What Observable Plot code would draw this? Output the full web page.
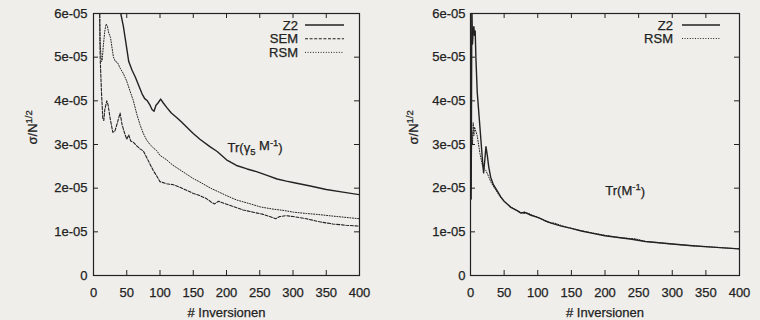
<!DOCTYPE html>
<html><head><meta charset="utf-8">
<script src="https://cdn.jsdelivr.net/npm/d3@7"></script>
<script src="https://cdn.jsdelivr.net/npm/@observablehq/plot@0.6"></script>
<style>
html,body{margin:0;padding:0;background:#efeeea;}
#wrap{position:relative;width:760px;height:320px;display:flex;}
#wrap svg{font-family:"Liberation Sans",Arial,sans-serif;}
#wrap svg text{stroke:#222;stroke-width:0.25px;}
</style></head><body><div id="wrap"></div>
<script>
// ---- data (y values in units of 1e-05) ----
const xTicks = [0, 50, 100, 150, 200, 250, 300, 350, 400];
const yTicks = [0, 1, 2, 3, 4, 5, 6];
const yTickLabels = ["0", "1e-05", "2e-05", "3e-05", "4e-05", "5e-05", "6e-05"];
const xLabel = "# Inversionen";
const yLabel = "σ/N1/2";

// Left panel: Tr(gamma5 M^-1)
const leftZ2 = [[38,6.4],[41,6.0],[45,5.7],[48,5.4],[53,4.9],[58,4.7],[63,4.54],[68,4.35],[73,4.16],[77,4.05],[81,4.0],[85,3.9],[88,3.8],[91,3.76],[94,3.9],[97,3.95],[101,4.04],[105,3.95],[110,3.85],[117,3.72],[125,3.62],[132,3.52],[140,3.4],[150,3.25],[160,3.12],[175,2.95],[186,2.84],[200,2.65],[215,2.52],[231,2.44],[245,2.38],[260,2.3],[276,2.21],[290,2.16],[300,2.13],[326,2.05],[350,1.97],[375,1.91],[400,1.85]];
const leftSEM = [[9,6.4],[10,5.0],[12,4.2],[14,3.6],[15.5,3.55],[17,3.8],[20,4.0],[22,3.9],[25,3.6],[29,3.28],[32,3.3],[36,3.5],[40,3.72],[43,3.45],[47,3.25],[50,3.12],[53,3.22],[56,3.08],[60,3.05],[65,2.97],[70,2.9],[75,2.85],[80,2.7],[85,2.55],[90,2.4],[95,2.28],[100,2.15],[110,2.1],[120,2.08],[130,2.02],[140,1.95],[150,1.88],[160,1.83],[170,1.76],[178,1.67],[182,1.64],[188,1.7],[195,1.66],[210,1.58],[225,1.5],[240,1.45],[255,1.4],[265,1.35],[274,1.3],[280,1.35],[290,1.37],[300,1.35],[320,1.3],[340,1.23],[360,1.18],[380,1.15],[400,1.13]];
const leftRSM = [[9,6.4],[10,5.3],[12,4.9],[13,4.92],[15,5.3],[17,5.6],[19,5.76],[21,5.7],[23,5.55],[25.6,5.45],[28,5.2],[30,5.0],[33,4.9],[36,4.88],[40,4.75],[45,4.62],[50,4.45],[55,4.22],[60,4.0],[65,3.7],[70,3.45],[75,3.25],[80,3.1],[85,3.0],[90,2.92],[95,2.86],[100,2.75],[110,2.65],[115,2.58],[120,2.52],[130,2.42],[140,2.32],[150,2.22],[160,2.14],[176,2.0],[186,1.93],[200,1.83],[215,1.73],[236,1.64],[251,1.57],[270,1.52],[286,1.49],[301,1.45],[320,1.42],[336,1.40],[360,1.36],[380,1.33],[400,1.30]];

// Right panel: Tr(M^-1)
const rightZ2 = [[1,1.75],[2,6.2],[3,5.3],[4,5.6],[5,5.7],[6,5.5],[7,5.6],[8,5.0],[10,4.2],[12,3.8],[14,3.4],[16,3.0],[18,2.6],[19.5,2.35],[21,2.6],[23,2.95],[25,2.75],[27,2.5],[30,2.25],[34,2.08],[40,1.93],[45,1.8],[50,1.7],[60,1.56],[70,1.48],[75,1.43],[80,1.45],[90,1.38],[100,1.33],[110,1.26],[120,1.2],[135,1.13],[150,1.08],[165,1.02],[180,0.97],[200,0.91],[220,0.87],[240,0.83],[260,0.78],[280,0.75],[300,0.72],[330,0.68],[360,0.65],[400,0.61]];
const rightRSM = [[1,2.0],[2,3.3],[3,3.0],[4,3.5],[5,3.2],[6,3.4],[8,3.3],[10,3.2],[12,3.0],[14,2.8],[16,2.65],[18,2.5],[20,2.45],[23,2.4],[26,2.3],[30,2.15],[35,2.02],[40,1.9],[45,1.78],[50,1.7],[60,1.57],[70,1.48],[78,1.42],[85,1.43],[95,1.36],[105,1.3],[115,1.22],[125,1.2],[140,1.12],[160,1.04],[180,0.98],[200,0.92],[220,0.87],[235,0.85],[245,0.84],[260,0.78],[280,0.75],[300,0.72],[330,0.68],[360,0.65],[400,0.61]];

const leftAnnotation = {x: 243, y: 2.93, text: "Tr(γ5 M-1)"};
const rightAnnotation = {x: 230, y: 1.95, text: "Tr(M-1)"};

const styles = {
  Z2: {dash: null, width: 1.4},
  SEM: {dash: "3,1.6", width: 1.1},
  RSM: {dash: "1,1.6", width: 1.0}
};
const INK = "#222";

function toRows(arr, name) { return arr.map(([x, y]) => ({x, y, name})); }

function panel(opts) {
  const {series, marginLeft, marginRight, yLabelDx, tickPad, ann, legend} = opts;
  const W = 380, H = 320, mt = 13, mb = 45;
  const plotW = W - marginLeft - marginRight, plotH = H - mt - mb;
  const marks = [
    Plot.ruleX(xTicks, {x: d => d, insetTop: plotH - 5, stroke: INK}),
    Plot.ruleX(xTicks, {x: d => d, insetBottom: plotH - 5, stroke: INK}),
    Plot.ruleY(yTicks, {y: d => d, insetRight: plotW - 5, stroke: INK}),
    Plot.ruleY(yTicks, {y: d => d, insetLeft: plotW - 5, stroke: INK}),
    Plot.axisX(xTicks, {anchor: "bottom", tickSize: 0, tickPadding: 12, label: null, tickFormat: d => String(d)}),
    Plot.axisY(yTicks, {anchor: "left", tickSize: 0, tickPadding: tickPad, label: null, tickFormat: d => yTickLabels[yTicks.indexOf(d)]}),
    Plot.text([xLabel], {frameAnchor: "bottom", dy: 37, lineAnchor: "middle", fill: INK}),
    Plot.text([yLabel], {frameAnchor: "left", dx: yLabelDx, rotate: -90, fill: INK}),
    Plot.text([ann], {x: "x", y: "y", text: "text", fill: INK}),
  ];
  for (const s of series) {
    const st = styles[s.name];
    marks.push(Plot.line(toRows(s.data, s.name), {x: "x", y: "y", stroke: INK, strokeWidth: st.width, strokeDasharray: st.dash, clip: true}));
  }
  marks.push(Plot.frame({stroke: INK, strokeWidth: 1.2}));
  const svg = Plot.plot({
    width: W, height: H, marginLeft, marginRight, marginTop: mt, marginBottom: mb,
    style: {background: "transparent", fontSize: "13px", fontFamily: "'Liberation Sans', Arial, sans-serif", color: INK},
    x: {domain: [0, 400]}, y: {domain: [0, 6]},
    marks
  });
  const sel = d3.select(svg);
  // rich text: superscripts / subscripts
  sel.selectAll("text").each(function() {
    const t = this.textContent;
    const el = d3.select(this);
    if (t === yLabel) {
      el.text(null);
      el.append("tspan").text("σ/N");
      el.append("tspan").attr("dy", "-0.45em").attr("font-size", "9.5px").text("1/2");
    } else if (t === "Tr(γ5 M-1)") {
      el.text(null);
      el.append("tspan").text("Tr(γ");
      el.append("tspan").attr("dy", "0.35em").attr("font-size", "9.5px").text("5");
      el.append("tspan").attr("dy", "-0.35em").text(" M");
      el.append("tspan").attr("dy", "-0.45em").attr("font-size", "9.5px").text("-1");
      el.append("tspan").attr("dy", "0.45em").text(")");
    } else if (t === "Tr(M-1)") {
      el.text(null);
      el.append("tspan").text("Tr(M");
      el.append("tspan").attr("dy", "-0.45em").attr("font-size", "9.5px").text("-1");
      el.append("tspan").attr("dy", "0.45em").text(")");
    }
  });
  // legend (key), gnuplot style at top right inside frame
  const frameRight = W - marginRight;
  const g = sel.append("g").attr("font-size", "13px").attr("fill", INK);
  series.forEach((s, i) => {
    const y = legend.y0 + i * legend.step;
    const st = styles[s.name];
    g.append("text").attr("x", frameRight - legend.textOff).attr("y", y).attr("dy", "0.36em").attr("text-anchor", "end").text(s.name);
    g.append("line").attr("x1", frameRight - legend.lineOff1).attr("x2", frameRight - legend.lineOff2)
      .attr("y1", y).attr("y2", y).attr("stroke", INK).attr("stroke-width", st.width)
      .attr("stroke-dasharray", st.dash);
  });
  return svg;
}

const wrap = document.getElementById("wrap");
wrap.appendChild(panel({
  series: [{name: "Z2", data: leftZ2}, {name: "SEM", data: leftSEM}, {name: "RSM", data: leftRSM}],
  marginLeft: 93, marginRight: 21, yLabelDx: -61, tickPad: 6, ann: leftAnnotation,
  legend: {y0: 25, step: 13.7, textOff: 61, lineOff1: 54, lineOff2: 15}
}));
wrap.appendChild(panel({
  series: [{name: "Z2", data: rightZ2}, {name: "RSM", data: rightRSM}],
  marginLeft: 90, marginRight: 21, yLabelDx: -57, tickPad: 5, ann: rightAnnotation,
  legend: {y0: 25, step: 13.5, textOff: 66, lineOff1: 57, lineOff2: 19}
}));
</script></body></html>
